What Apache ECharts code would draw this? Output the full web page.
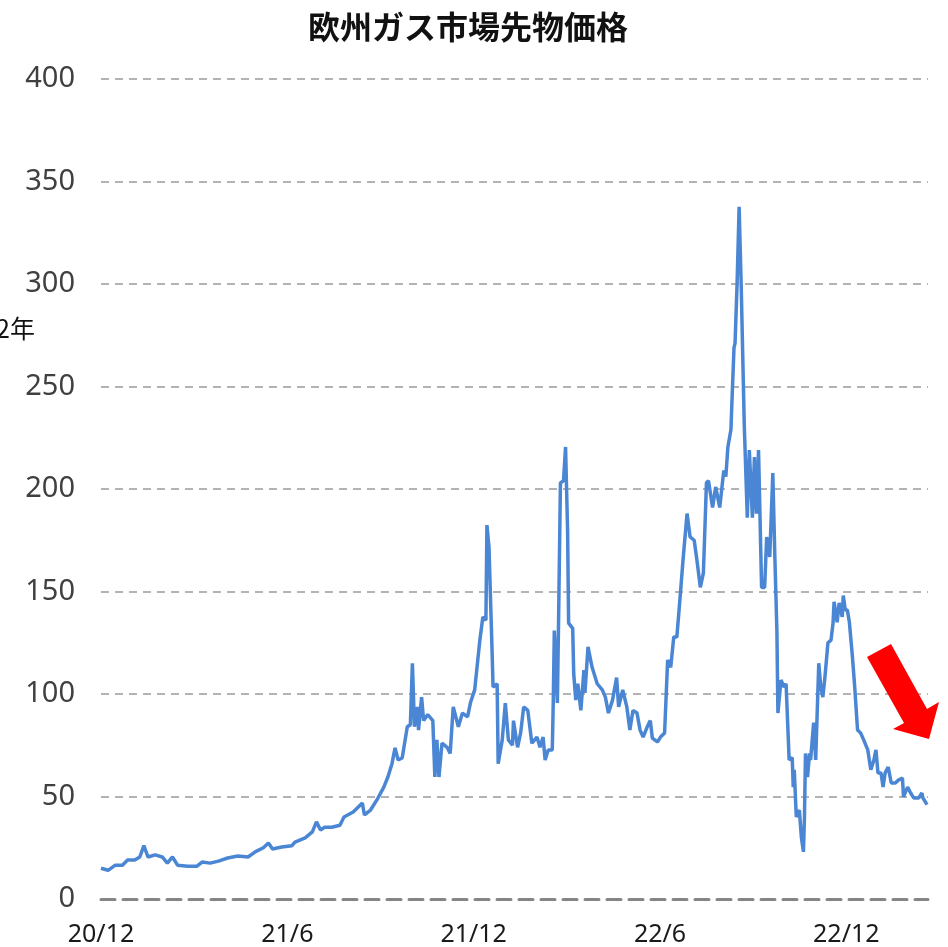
<!DOCTYPE html>
<html>
<head>
<meta charset="utf-8">
<script src="https://cdn.jsdelivr.net/npm/echarts@6/dist/echarts.min.js"></script>
<style>
html,body{margin:0;padding:0;background:#fff;}
#chart{width:948px;height:947px;}
</style>
</head>
<body>
<div id="chart"></div>
<script>
// Days since 2020-12-01 and price values
const dayOffsets = [
  0,7,14,21,26,33,38,42,46,53,60,65,70,75,85,94,99,107,115,124,134,144,151,159,164,168,177,187,190,200,
  207,211,215,219,226,234,238,247,256,258,264,271,277,281,285,288,291,295,300,303,305,307,310,311,314,316,320,325,327,329,
  331,334,339,342,345,350,354,359,362,366,371,374,377,378,380,383,384,388,389,393,396,399,403,404,408,411,414,418,422,427,
  430,433,435,438,442,443,444,445,447,448,450,453,455,457,458,462,463,465,467,470,473,474,477,481,486,491,494,497,501,505,
  507,511,515,518,521,525,528,531,535,538,540,545,548,552,555,558,561,564,567,570,574,577,581,584,587,590,593,595,599,602,
  606,610,612,614,617,618,620,621,623,625,627,630,633,635,638,640,642,644,647,650,652,655,658,660,662,663,666,669,671,674,
  677,678,679,681,684,686,688,689,690,692,694,695,698,700,703,705,707,709,712,715,717,718,721,723,726,727,729,731,733,736,
  738,741,744,747,751,754,757,759,761,764,766,768,771,774,778,781,785,786,790,793,796,801,804,805,809
];
const prices = [
  15,14,16.5,16.5,19,19,20.5,26,20.5,21.5,20.5,17.5,20.5,16.5,16,16,18,17.5,18.5,20,21,20.5,23,25,27.3,24.4,25.4,26,27.8,29.8,
  32.7,37.6,33.7,35,35,36,40,42.4,46.8,41,43.4,49,54.6,59.5,66,73.7,67.8,68.8,84,85,115,84,93.7,82.4,98.5,87,90,87,59.5,77.6,
  59.5,76,74,71,93.7,84,90.7,88.8,96,102,126,137.6,136,182.4,171.7,121.5,103.4,105,66,77.6,95.6,77.6,75,87,74,81,93.7,92,76,79,
  74,79,67.8,72.7,72.7,97,131,131,95.6,130,203,204,220.5,180,134.6,132,110,97,105,92,111.7,100.5,123,113,105,102,98.5,90.7,97,108,
  93.7,102,93.7,82.4,92,90.7,82.4,79,84,87,78.5,76.6,79,81,116.6,113,127.8,127.8,145.9,165,188,176.6,175,164,152,159,203,204,191,201,
  191,209,206,220.5,229,243,269,271,300,337.6,300,232,186,219,186,215.6,188,219,152,152,176.6,166.8,207.8,166.8,131,90.7,106.8,103.4,105,67.8,
  69,54.6,63,40,43.4,30,23,40,71,59.5,71,67.8,86,67.8,115,103.4,98.5,108,125,126.3,134.6,145,135,144.4,137.6,148,141,141,135,118,
  105,82.4,81,77.6,72.7,63,67.8,72.7,61.5,61.5,54.6,61.5,64.4,56.6,56.6,58,59,49.8,54.6,51.7,49.3,49.3,51.7,49.3,46
];
const tickDays = [0, 182.5, 365, 547.5, 730];
const tickLabels = ['20/12', '21/6', '21/12', '22/6', '22/12'];
const titleText = '欧州ガス市場先物価格';
const sideText = '2年';

const chart = echarts.init(document.getElementById('chart'), null, {renderer: 'canvas'});
const seriesData = dayOffsets.map((d, i) => [d, prices[i]]);

chart.setOption({
  animation: false,
  backgroundColor: '#ffffff',
  grid: {left: 101, right: 20, top: 79, bottom: 48, containLabel: false},
  xAxis: {
    type: 'value',
    min: 0,
    max: 810,
    interval: 182.5,
    axisLine: {show: true, onZero: false, lineStyle: {color: '#858585', width: 3, type: [14, 8]}},
    axisTick: {show: false},
    splitLine: {show: false},
    axisLabel: {
      show: true,
      showMaxLabel: false,
      margin: 23,
      fontSize: 25,
      fontFamily: 'Noto Sans, DejaVu Sans, sans-serif',
      color: '#1a1a1a',
      formatter: function (v) {
        const idx = tickDays.findIndex(t => Math.abs(t - v) < 0.01);
        return idx >= 0 ? tickLabels[idx] : '';
      }
    }
  },
  yAxis: {
    type: 'value',
    min: 0,
    max: 400,
    interval: 50,
    axisLine: {show: false},
    axisTick: {show: false},
    splitLine: {show: true, showMinLine: false, lineStyle: {color: '#b3b3b3', width: 2, type: [8, 6]}},
    axisLabel: {
      margin: 26,
      fontSize: 29,
      fontFamily: 'Noto Sans, DejaVu Sans, sans-serif',
      color: '#404040'
    }
  },
  series: [{
    type: 'line',
    data: seriesData,
    showSymbol: false,
    symbol: 'none',
    lineStyle: {color: '#4a86d4', width: 3.5},
    z: 5
  }],
  graphic: [
    {
      type: 'text',
      style: {
        text: titleText,
        x: 468, y: 27,
        textAlign: 'center',
        textVerticalAlign: 'middle',
        font: 'bold 32px "Noto Sans CJK JP", sans-serif',
        fill: '#111111'
      }
    },
    {
      type: 'text',
      style: {
        text: sideText,
        x: -4, y: 328,
        textAlign: 'left',
        textVerticalAlign: 'middle',
        font: '25px "Noto Sans CJK JP", sans-serif',
        fill: '#111111'
      }
    },
    {
      type: 'polygon',
      z: 10,
      shape: {points: [[867,657],[891,644],[927,709],[939,702],[929,739],[893,729],[904,723]]},
      style: {fill: '#ff0000'}
    }
  ]
});
</script>
</body>
</html>
